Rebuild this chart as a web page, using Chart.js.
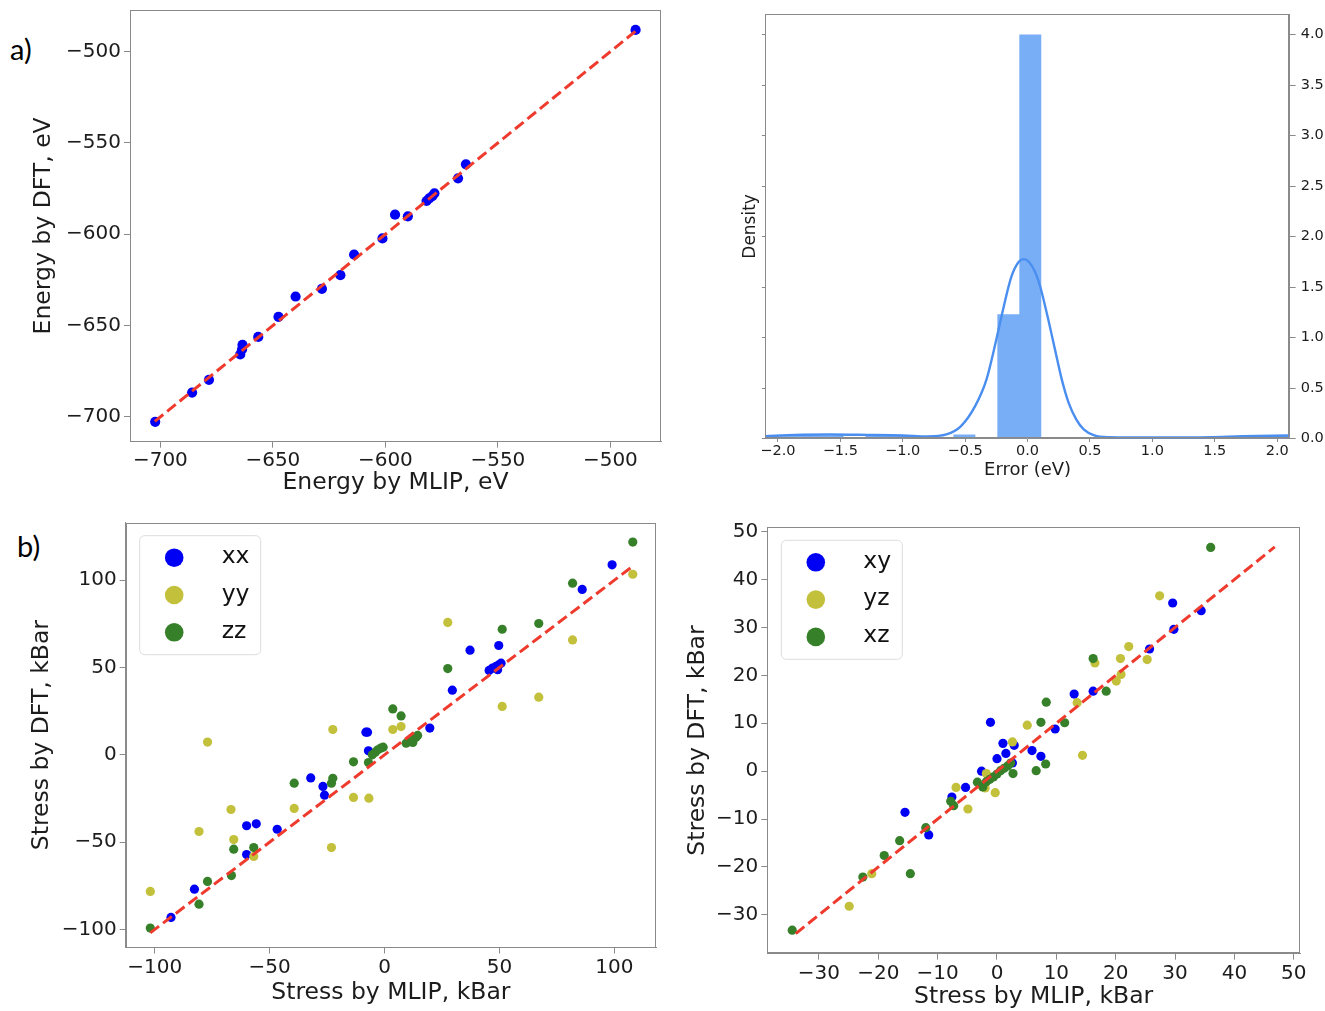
<!DOCTYPE html>
<html><head><meta charset="utf-8">
<script src="https://cdn.jsdelivr.net/npm/chart.js@4.4.1/dist/chart.umd.min.js"></script>
<style>
html,body{margin:0;padding:0;background:#fff;}
body{width:1325px;height:1011px;position:relative;overflow:hidden;}
canvas{position:absolute;}
.lbl{position:absolute;font-family:Lato,'Open Sans',sans-serif;font-size:29px;color:#000;line-height:1;}
</style></head><body>
<div class="lbl" style="left:10px;top:34px">a)</div>
<div class="lbl" style="left:17px;top:531px">b)</div>
<canvas id="cA" width="680" height="500" style="left:0;top:0"></canvas>
<canvas id="cB" width="625" height="500" style="left:700px;top:0"></canvas>
<canvas id="cC" width="680" height="511" style="left:0;top:500px"></canvas>
<canvas id="cD" width="645" height="511" style="left:680px;top:500px"></canvas>
<script>
// ---------------- data ----------------
const energyMLIP = [-702.3,-685.9,-678.4,-664.5,-663.7,-663.5,-656.5,-647.5,-639.9,-628.2,-620.0,-613.9,-601.3,-595.7,-590.0,-581.7,-580.5,-579.1,-578.2,-567.7,-564.2,-488.8];
const energyDFT  = [-702.7,-686.7,-679.7,-665.8,-663.1,-660.5,-656.2,-645.2,-634.1,-629.9,-622.4,-611.1,-602.3,-589.3,-590.2,-581.8,-580.4,-579.1,-577.6,-569.4,-561.7,-488.1];
const energyRefLine = [-702.5, -488.5];
const energyTicks = [-700,-650,-600,-550,-500];

// bin edges (left edge of each bin, plus final right edge) and densities per bin
const histEdges = [-2.178,-2.002,-1.826,-1.650,-1.474,-1.298,-1.122,-0.946,-0.770,-0.594,-0.418,-0.242,-0.066,0.110,0.286,0.462,0.638,0.814,0.990,1.166,1.342,1.518,1.694,1.870,2.046,2.222];
const histDensity = [0.03,0.03,0.03,0.03,0,0.03,0.03,0,0,0.04,0,1.23,4.0,0,0,0,0,0,0,0,0,0,0.03,0.03,0.03];
const kdeX = [-2.1,-1.86,-1.58,-1.29,-1.0,-0.8,-0.65,-0.535,-0.42,-0.33,-0.25,-0.19,-0.13,-0.07,-0.03,0.01,0.06,0.10,0.16,0.22,0.275,0.33,0.39,0.45,0.535,0.65,1.03,1.46,1.72,2.1];
const kdeY = [0.023,0.036,0.04,0.036,0.03,0.02,0.04,0.12,0.32,0.58,0.98,1.31,1.60,1.75,1.776,1.75,1.65,1.51,1.21,0.88,0.58,0.35,0.19,0.09,0.03,0.013,0.01,0.013,0.023,0.03];
const errorTicks = [-2.0,-1.5,-1.0,-0.5,0.0,0.5,1.0,1.5,2.0];
const densityTicks = [0.0,0.5,1.0,1.5,2.0,2.5,3.0,3.5,4.0];

const xxMLIP = [-92.9,-82.7,-60.0,-55.8,-60.0,-46.7,-32.1,-26.8,-26.1,-8.1,-7.4,-7.0,19.7,29.5,37.2,49.7,45.5,46.9,48.5,49.7,50.7,49.2,86.0,99.0];
const xxDFT  = [-93.1,-76.9,-40.6,-39.5,-57.1,-42.6,-13.2,-18.1,-23.1,13.0,13.0,2.3,15.3,37.0,59.9,62.6,48.3,49.6,50.6,51.5,52.5,48.7,94.7,108.8];
const yyMLIP = [-101.9,-77.0,-80.7,-66.8,-65.6,-56.9,-39.3,-23.1,-22.5,-13.5,-6.8,3.6,7.2,27.5,51.2,67.1,81.8,108.0];
const yyDFT  = [-78.2,7.3,-43.9,-31.3,-48.5,-58.2,-30.7,-53.1,14.5,-24.4,-24.8,14.5,16.2,75.8,27.7,33.0,65.8,103.4];
const zzMLIP = [-101.9,-80.7,-77.0,-66.6,-65.6,-56.9,-39.3,-23.1,-22.5,-13.5,-7.0,-5.3,-4.0,-2.9,-1.7,-0.6,3.6,7.2,9.4,11.0,12.4,13.7,14.4,12.3,27.5,51.2,67.1,81.8,108.0];
const zzDFT  = [-99.2,-85.5,-72.5,-69.1,-54.0,-53.1,-16.2,-16.2,-13.4,-4.0,-4.4,0.0,1.5,2.9,3.8,4.4,26.3,22.3,6.7,7.6,8.6,10.1,11.1,7.1,49.4,71.9,75.2,98.3,121.8];
const diagRefLine = [-101.9, 108.0];
const diagTicks = [-100,-50,0,50,100];

const xyMLIP = [-15.5,-11.5,-7.6,-5.3,-2.6,-1.1,0.0,1.0,1.5,2.6,2.9,5.9,7.4,9.8,13.0,16.2,25.7,29.6,29.8,34.4];
const xyDFT  = [-8.6,-13.3,-5.4,-3.4,0.0,10.2,2.6,5.8,3.7,1.7,5.4,4.3,3.1,8.8,16.1,16.7,25.5,35.1,29.6,33.5];
const yzMLIP = [-24.9,-21.1,-6.9,-4.9,-2.0,-1.8,-0.3,2.6,5.1,13.5,14.4,16.5,20.1,20.9,20.8,22.2,25.3,27.4];
const yzDFT  = [-28.2,-21.4,-3.4,-7.9,-3.5,-0.5,-4.5,6.1,9.6,14.3,3.3,22.6,18.8,20.2,23.5,26.0,23.3,36.6];
const xzMLIP = [-34.5,-22.6,-19.0,-16.4,-14.6,-12.0,-7.8,-7.3,-3.3,-2.4,-1.8,-1.2,-0.6,0.0,0.6,1.2,1.8,2.3,2.7,6.6,7.4,8.2,8.3,11.4,16.2,18.4,36.0];
const xzDFT  = [-33.2,-22.1,-17.6,-14.5,-21.4,-11.8,-6.3,-7.2,-2.3,-3.3,-2.2,-1.7,-1.2,-0.6,0.1,0.6,1.1,1.7,-0.5,0.1,10.2,1.5,14.4,10.1,23.5,16.7,46.7];
const offRefLine = [-33.9, 46.8];
const offTicks = [-30,-20,-10,0,10,20,30,40,50];

// ---------------- helpers ----------------
const zip = (xs, ys) => xs.map((x, i) => ({x, y: ys[i]}));
const refPts = r => [{x: r[0], y: r[0]}, {x: r[1], y: r[1]}];
const minus = v => (v < 0 ? '\u2212' : '') + Math.abs(v);
const minus1 = v => (v < 0 ? '\u2212' : '') + Math.abs(v).toFixed(1);
const TXT = '#1c1c1c', SPINE = '#8a8a8a';
const BLUE = '#0000f5', YEL = '#c3c03c', GRN = '#37802a', RED = '#ef3b2e';
Chart.defaults.font.family = "'DejaVu Sans', sans-serif";
Chart.defaults.color = TXT;
Chart.defaults.animation = false;

function fix(size, tickVals) {
  return {
    afterFit: s => { if (s.isHorizontal()) s.height = size; else s.width = size;
      s.paddingTop = 0; s.paddingBottom = 0; s.paddingLeft = 0; s.paddingRight = 0; },
    afterBuildTicks: s => { if (tickVals) s.ticks = tickVals.map(v => ({value: v})); }
  };
}
function axis(o) {
  const a = Object.assign({
    type: 'linear',
    min: o.min, max: o.max,
    grid: {display: true, drawOnChartArea: false, drawTicks: true, tickLength: o.tl || 6, color: SPINE},
    border: {display: true, color: SPINE, width: 1},
    ticks: {font: {size: o.fs || 20}, padding: o.pad === undefined ? 3 : o.pad, color: TXT, maxRotation: 0,
            callback: o.cb || (v => minus(v))},
    title: o.title ? {display: true, text: o.title, color: TXT, font: {size: o.tfs || 23.5},
            padding: o.tpad} : {display: false}
  }, fix(o.size, o.ticks));
  if (o.position) a.position = o.position;
  return a;
}

const frame = {
  id: 'frame',
  afterDatasetsDraw(chart) {
    const a = chart.chartArea, c = chart.ctx;
    c.save(); c.strokeStyle = SPINE; c.lineWidth = 1;
    c.strokeRect(Math.round(a.left) + 0.5, Math.round(a.top) + 0.5,
                 Math.round(a.right - a.left) - 1, Math.round(a.bottom - a.top) - 1);
    c.restore();
  }
};
const insideLegend = {
  id: 'insideLegend',
  afterDraw(chart, args, o) {
    if (!o || !o.show) return;
    const c = chart.ctx, a = chart.chartArea;
    const x = a.left + o.dx, y = a.top + o.dy;
    c.save();
    c.beginPath(); c.roundRect(x + 0.5, y + 0.5, o.w, o.h, 5);
    c.fillStyle = 'rgba(255,255,255,0.85)'; c.fill();
    c.strokeStyle = '#dcdcdc'; c.lineWidth = 1; c.stroke();
    chart.data.datasets.filter(d => !d.isRef).forEach((d, i) => {
      const cy = y + o.row0 + i * o.gap;
      c.beginPath(); c.arc(x + o.mx, cy, o.r, 0, Math.PI * 2);
      c.fillStyle = d.backgroundColor; c.fill();
      c.fillStyle = '#111'; c.font = o.font; c.textAlign = 'left'; c.textBaseline = 'alphabetic';
      c.fillText(d.label, x + o.tx, cy + 5.5);
    });
    c.restore();
  }
};
const legendOpts = {show: true, dx: 13.5, dy: 12.5, w: 121, h: 119, row0: 22.5, gap: 37.3,
                    mx: 35, r: 9.3, tx: 82.5, font: "23.5px 'DejaVu Sans'"};

function scatterSet(label, xs, ys, color, r, order) {
  return {type: 'scatter', label, data: zip(xs, ys), backgroundColor: color, borderColor: color,
          borderWidth: 0, pointRadius: r, pointHoverRadius: r, order};
}
function refSet(r) {
  return {type: 'line', label: 'ref', isRef: true, data: refPts(r), borderColor: RED, borderWidth: 3,
          borderDash: [11, 5], pointRadius: 0, fill: false, order: 0, tension: 0};
}
const common = {responsive: false, maintainAspectRatio: false, animation: false,
                plugins: {legend: {display: false}, tooltip: {enabled: false}}};

// ---------------- panel a-left: energy parity ----------------
new Chart(document.getElementById('cA'), {
  type: 'scatter',
  data: {datasets: [refSet(energyRefLine), scatterSet('energy', energyMLIP, energyDFT, BLUE, 5.1, 1)]},
  options: Object.assign({}, common, {
    layout: {padding: {left: 0, top: 10, right: 19, bottom: 0}},
    scales: {
      x: axis({min: -713.5, max: -477.5, size: 58.3, ticks: energyTicks, pad: 1,
               title: 'Energy by MLIP, eV', tpad: {top: 0, bottom: 2.9}}),
      y: axis({min: -713.6, max: -477.2, size: 130, ticks: energyTicks,
               title: 'Energy by DFT, eV', tpad: {top: 29.9, bottom: 0}})
    }
  }),
  plugins: [frame]
});

// ---------------- panel a-right: error histogram ----------------
// each bin height sits at the bin's left edge; Chart.js 'before' stepping keeps it until the next edge
const histPts = histEdges.map((e, i) => ({x: e, y: i < histDensity.length ? histDensity[i] : 0}));
new Chart(document.getElementById('cB'), {
  type: 'line',
  data: {datasets: [
    {label: 'kde', data: zip(kdeX, kdeY), borderColor: '#4a8ef0', borderWidth: 2.4, pointRadius: 0,
     fill: false, cubicInterpolationMode: 'monotone', order: 0, yAxisID: 'y'},
    {label: 'hist', data: histPts, stepped: 'before', borderWidth: 0, borderColor: 'rgba(0,0,0,0)',
     backgroundColor: '#78aef5', fill: 'origin', pointRadius: 0, order: 1, yAxisID: 'y'}
  ]},
  options: Object.assign({}, common, {
    layout: {padding: {left: 0, top: 14.3, right: 0, bottom: 0}},
    scales: {
      x: axis({min: -2.1, max: 2.1, size: 61.5, ticks: errorTicks, fs: 14.5, tl: 3.5, pad: 1,
               cb: v => minus1(v), title: 'Error (eV)', tfs: 18, tpad: {top: 0, bottom: 19.2}}),
      y: axis({min: 0, max: 4.2, size: 65.4, ticks: densityTicks, fs: 14.5, tl: 3.5, cb: () => '',
               title: 'Density', tfs: 17, tpad: {top: 40.8, bottom: 0}, position: 'left'}),
      y2: axis({min: 0, max: 4.2, size: 35.3, ticks: densityTicks, fs: 14.5, tl: 0, pad: 5,
                cb: v => minus1(v), position: 'right'})
    }
  }),
  plugins: [frame]
});

// ---------------- panel b-left: diagonal stress ----------------
new Chart(document.getElementById('cC'), {
  type: 'scatter',
  data: {datasets: [refSet(diagRefLine),
    scatterSet('xx', xxMLIP, xxDFT, BLUE, 4.6, 3),
    scatterSet('yy', yyMLIP, yyDFT, YEL, 4.6, 2),
    scatterSet('zz', zzMLIP, zzDFT, GRN, 4.6, 1)]},
  options: Object.assign({}, common, {
    layout: {padding: {left: 0, top: 22.7, right: 24, bottom: 0}},
    plugins: {legend: {display: false}, tooltip: {enabled: false}, insideLegend: legendOpts},
    scales: {
      x: axis({min: -112.6, max: 118.1, size: 63.5, ticks: diagTicks, pad: 2,
               title: 'Stress by MLIP, kBar', tpad: {top: 0, bottom: 3.9}}),
      y: axis({min: -110.3, max: 132.9, size: 125.7, ticks: diagTicks,
               title: 'Stress by DFT, kBar', tpad: {top: 27.9, bottom: 0}})
    }
  }),
  plugins: [frame, insideLegend]
});

// ---------------- panel b-right: off-diagonal stress ----------------
new Chart(document.getElementById('cD'), {
  type: 'scatter',
  data: {datasets: [refSet(offRefLine),
    scatterSet('xy', xyMLIP, xyDFT, BLUE, 4.6, 3),
    scatterSet('yz', yzMLIP, yzDFT, YEL, 4.6, 2),
    scatterSet('xz', xzMLIP, xzDFT, GRN, 4.6, 1)]},
  options: Object.assign({}, common, {
    layout: {padding: {left: 0, top: 27.3, right: 25, bottom: 0}},
    plugins: {legend: {display: false}, tooltip: {enabled: false}, insideLegend: legendOpts},
    scales: {
      x: axis({min: -38.7, max: 51.05, size: 57.3, ticks: offTicks, pad: 2,
               title: 'Stress by MLIP, kBar', tpad: {top: 0, bottom: 0}}),
      y: axis({min: -38.1, max: 50.9, size: 87.3, ticks: offTicks,
               title: 'Stress by DFT, kBar', tpad: {top: 3.4, bottom: 0}})
    }
  }),
  plugins: [frame, insideLegend]
});
</script>
</body></html>
